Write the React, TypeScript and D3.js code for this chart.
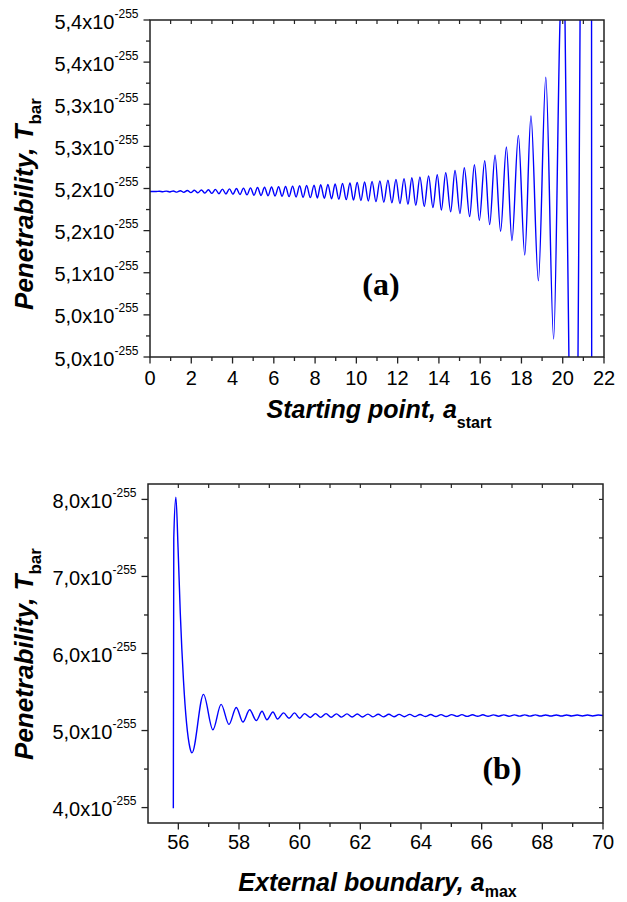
import React from "react";
import * as d3 from "d3";

// ---------- Panel (a) data ----------
const aXTicks = [0, 2, 4, 6, 8, 10, 12, 14, 16, 18, 20, 22];
const aXMinor = [1, 3, 5, 7, 9, 11, 13, 15, 17, 19, 21];
const aXTop = [1, 2, 3, 4, 5, 6, 7, 8, 9, 10, 11, 12, 13, 14, 15, 16, 17, 18, 19, 20, 21];
const aYTicks = [5.0, 5.05, 5.1, 5.15, 5.2, 5.25, 5.3, 5.35, 5.4];
const aYLabels = ["5,0", "5,0", "5,1", "5,2", "5,2", "5,3", "5,3", "5,4", "5,4"];
const aYMinor = [5.025, 5.075, 5.125, 5.175, 5.225, 5.275, 5.325, 5.375];
const aYRight = [5.025, 5.05, 5.075, 5.1, 5.125, 5.15, 5.175, 5.2, 5.225, 5.25, 5.275, 5.3, 5.325, 5.35, 5.375];

// extrema of T_bar vs a_start
const curveA: [number, number][] = [
  [0, 5.1964], [0.3, 5.1964],
  [0.45, 5.1967], [0.62, 5.1961], [0.79, 5.1969], [0.96, 5.1959],
  [1.13, 5.1971], [1.3, 5.1957], [1.47, 5.1974], [1.64, 5.1954],
  [1.81, 5.1977], [1.98, 5.1951], [2.15, 5.198], [2.32, 5.1948],
  [2.49, 5.1983], [2.66, 5.1945], [2.83, 5.1986], [3.0, 5.1942],
  [3.17, 5.199], [3.34, 5.1938], [3.51, 5.1993], [3.68, 5.1935],
  [3.85, 5.1996], [4.02, 5.1932], [4.19, 5.2], [4.36, 5.1928],
  [4.53, 5.2004], [4.7, 5.1924], [4.87, 5.2008], [5.04, 5.192],
  [5.21, 5.2011], [5.38, 5.1917], [5.55, 5.2014], [5.72, 5.1914],
  [5.89, 5.2017], [6.06, 5.1911], [6.23, 5.202], [6.4, 5.1908],
  [6.57, 5.2024], [6.74, 5.1904], [6.91, 5.2028], [7.08, 5.19],
  [7.25, 5.2032], [7.42, 5.1896], [7.59, 5.2036], [7.77, 5.1892],
  [7.95, 5.204], [8.11, 5.1888], [8.27, 5.2044], [8.45, 5.1884],
  [8.62, 5.2049], [8.8, 5.1879], [8.97, 5.2054], [9.15, 5.1874],
  [9.33, 5.206], [9.51, 5.1868], [9.69, 5.2066], [9.86, 5.1862],
  [10.04, 5.2072], [10.22, 5.1856], [10.4, 5.2078], [10.58, 5.185],
  [10.76, 5.2084], [10.95, 5.1844], [11.14, 5.2091], [11.33, 5.1837],
  [11.53, 5.2099], [11.72, 5.1829], [11.92, 5.2108], [12.11, 5.182],
  [12.31, 5.2117], [12.5, 5.1811], [12.69, 5.2127], [12.88, 5.18],
  [13.08, 5.2138], [13.29, 5.1788], [13.5, 5.215], [13.71, 5.1775],
  [13.92, 5.2164], [14.12, 5.1745], [14.33, 5.2187], [14.57, 5.1723],
  [14.78, 5.2214], [15.02, 5.1702], [15.23, 5.2246], [15.49, 5.1667],
  [15.72, 5.2282], [15.96, 5.1623], [16.22, 5.233], [16.46, 5.1571],
  [16.72, 5.2396], [16.99, 5.1492], [17.27, 5.2492], [17.54, 5.1381],
  [17.85, 5.2631], [18.16, 5.1211], [18.46, 5.2861], [18.82, 5.0905],
  [19.18, 5.3321], [19.56, 5.0214], [19.87, 5.4], [19.99, 5.47],
  [20.11, 5.4], [20.3, 5.0], [20.52, 4.9], [20.74, 5.0],
  [20.84, 5.4], [21.1, 5.8], [21.39, 5.8], [21.41, 4.6], [21.6, 4.5],
];

// ---------- Panel (b) data ----------
const bXTicks = [56, 58, 60, 62, 64, 66, 68, 70];
const bXMinor = [57, 59, 61, 63, 65, 67, 69];
const bXTop = [56, 57, 58, 59, 60, 61, 62, 63, 64, 65, 66, 67, 68, 69];
const bYTicks = [4, 5, 6, 7, 8];
const bYLabels = ["4,0", "5,0", "6,0", "7,0", "8,0"];
const bYMinor = [4.5, 5.5, 6.5, 7.5];
const bYRight = [4, 4.5, 5, 5.5, 6, 6.5, 7, 7.5, 8];

// extrema of T_bar vs a_max
const curveB: [number, number][] = [
  [55.835, 3.99], [55.85, 7.5], [55.92, 8.03], [55.99, 7.38], [56.065, 6.52],
  [56.17, 5.65], [56.38, 4.78], [56.45, 4.71], [56.83, 5.47], [57.14, 5.01],
  [57.41, 5.34], [57.67, 5.08], [57.91, 5.3], [58.13, 5.11], [58.35, 5.27],
  [58.57, 5.13], [58.76, 5.25], [58.92, 5.14], [59.12, 5.24], [59.27, 5.15],
  [59.47, 5.23], [59.65, 5.16], [59.83, 5.23], [60.0, 5.16], [60.16, 5.22],
  [60.35, 5.17], [60.52, 5.22], [60.69, 5.171], [60.87, 5.219], [61.04, 5.172],
  [61.21, 5.217], [61.38, 5.174], [61.56, 5.216], [61.73, 5.175], [61.9, 5.214],
  [62.07, 5.176], [62.25, 5.213], [62.42, 5.177], [62.59, 5.212], [62.76, 5.178],
  [62.94, 5.211], [63.11, 5.179], [63.28, 5.21], [63.45, 5.18], [63.63, 5.21],
  [63.8, 5.181], [63.97, 5.209], [64.14, 5.182], [64.32, 5.208], [64.49, 5.182],
  [64.66, 5.207], [64.83, 5.183], [65.01, 5.207], [65.18, 5.184], [65.35, 5.206],
  [65.52, 5.184], [65.7, 5.205], [65.87, 5.185], [66.04, 5.205], [66.21, 5.185],
  [66.39, 5.204], [66.56, 5.186], [66.73, 5.204], [66.9, 5.186], [67.08, 5.203],
  [67.25, 5.187], [67.42, 5.203], [67.59, 5.187], [67.77, 5.203], [67.94, 5.188],
  [68.11, 5.202], [68.28, 5.188], [68.46, 5.202], [68.63, 5.188], [68.8, 5.202],
  [68.97, 5.189], [69.15, 5.201], [69.32, 5.189], [69.49, 5.201], [69.66, 5.189],
  [69.84, 5.201], [70.0, 5.195],
];

const SANS = "'Liberation Sans', Arial, sans-serif";
const SERIF = "'Liberation Serif', 'Times New Roman', serif";

type PanelProps = {
  id: string;
  box: { l: number; r: number; t: number; b: number };
  xDomain: [number, number];
  yDomain: [number, number];
  xTicks: number[];
  xMinor: number[];
  xTop: number[];
  yTicks: number[];
  yLabels: string[];
  yMinor: number[];
  yRight: number[];
  data: [number, number][];
  xTitle: string;
  xSub: string;
  xSubDy: number;
  xLabelY: number;
  xTitleY: number;
  yTitleCenter: number;
  tag: string;
  tagX: number;
  tagY: number;
};

function Panel(p: PanelProps) {
  const { box } = p;
  const x = d3.scaleLinear().domain(p.xDomain).range([box.l, box.r]);
  const y = d3.scaleLinear().domain(p.yDomain).range([box.b, box.t]);
  const line = d3
    .line<[number, number]>()
    .x((d) => x(d[0]))
    .y((d) => y(d[1]))
    .curve(d3.curveMonotoneX);
  const axisColor = "#222";
  const cx = (box.l + box.r) / 2;
  return (
    <g>
      <defs>
        <clipPath id={"clip" + p.id}>
          <rect x={box.l} y={box.t} width={box.r - box.l} height={box.b - box.t} />
        </clipPath>
      </defs>
      <path
        d={line(p.data) || ""}
        fill="none"
        stroke="#0000ff"
        strokeWidth={1.4}
        clipPath={`url(#clip${p.id})`}
      />
      {/* frame */}
      <rect
        x={box.l}
        y={box.t}
        width={box.r - box.l}
        height={box.b - box.t}
        fill="none"
        stroke={axisColor}
        strokeWidth={1.5}
      />
      {/* bottom ticks */}
      {p.xTicks.map((v) => (
        <line key={"xt" + v} x1={x(v)} x2={x(v)} y1={box.b} y2={box.b + 6.5} stroke={axisColor} strokeWidth={1.3} />
      ))}
      {p.xMinor.map((v) => (
        <line key={"xm" + v} x1={x(v)} x2={x(v)} y1={box.b} y2={box.b + 4} stroke={axisColor} strokeWidth={1.3} />
      ))}
      {/* top ticks inward */}
      {p.xTop.map((v) => (
        <line key={"xtop" + v} x1={x(v)} x2={x(v)} y1={box.t} y2={box.t + 4} stroke={axisColor} strokeWidth={1.2} />
      ))}
      {/* left ticks */}
      {p.yTicks.map((v) => (
        <line key={"yt" + v} x1={box.l - 6.5} x2={box.l} y1={y(v)} y2={y(v)} stroke={axisColor} strokeWidth={1.3} />
      ))}
      {p.yMinor.map((v) => (
        <line key={"ym" + v} x1={box.l - 4} x2={box.l} y1={y(v)} y2={y(v)} stroke={axisColor} strokeWidth={1.3} />
      ))}
      {/* right ticks inward */}
      {p.yRight.map((v) => (
        <line key={"yr" + v} x1={box.r - 4} x2={box.r} y1={y(v)} y2={y(v)} stroke={axisColor} strokeWidth={1.2} />
      ))}
      {/* x tick labels */}
      {p.xTicks.map((v) => (
        <text key={"xl" + v} x={x(v)} y={p.xLabelY} textAnchor="middle" fontFamily={SANS} fontSize={20} fill="#000">
          {String(v)}
        </text>
      ))}
      {/* y tick labels */}
      {p.yTicks.map((v, i) => (
        <text key={"yl" + v} x={box.l - 11.5} y={y(v) + 8.5} textAnchor="end" fontFamily={SANS} fontSize={20} fill="#000">
          {p.yLabels[i] + "x10"}
          <tspan fontSize={12} dy={-11}>
            -255
          </tspan>
        </text>
      ))}
      {/* x title */}
      <text x={cx + 2} y={p.xTitleY} textAnchor="middle" fontFamily={SANS} fontSize={25} fontWeight="bold" fontStyle="italic" fill="#000">
        {p.xTitle}
        <tspan fontSize={16} fontStyle="normal" dy={p.xSubDy}>
          {p.xSub}
        </tspan>
      </text>
      {/* y title */}
      <text
        transform={`translate(33,${p.yTitleCenter}) rotate(-90)`}
        textAnchor="middle"
        fontFamily={SANS}
        fontSize={26}
        fontWeight="bold"
        fontStyle="italic"
        fill="#000"
      >
        {"Penetrability, "}
        <tspan>T</tspan>
        <tspan fontSize={17} fontStyle="normal" dy={8}>
          bar
        </tspan>
      </text>
      {/* panel tag */}
      <text x={p.tagX} y={p.tagY} textAnchor="middle" fontFamily={SERIF} fontSize={32} fontWeight="bold" fill="#000">
        {p.tag}
      </text>
    </g>
  );
}

export default function App() {
  return (
    <svg
      width={627}
      height={902}
      viewBox="0 0 627 902"
      style={{ position: "absolute", left: 0, top: 0, background: "#fff" }}
    >
      <rect x={0} y={0} width={627} height={902} fill="#fff" />
      <Panel
        id="a"
        box={{ l: 150, r: 604, t: 20, b: 357 }}
        xDomain={[0, 22]}
        yDomain={[5.0, 5.4]}
        xTicks={aXTicks}
        xMinor={aXMinor}
        xTop={aXTop}
        yTicks={aYTicks}
        yLabels={aYLabels}
        yMinor={aYMinor}
        yRight={aYRight}
        data={curveA}
        xTitle="Starting point, a"
        xSub="start"
        xSubDy={10}
        xLabelY={385}
        xTitleY={418}
        yTitleCenter={204}
        tag="(a)"
        tagX={381}
        tagY={295}
      />
      <Panel
        id="b"
        box={{ l: 148, r: 603, t: 484, b: 823 }}
        xDomain={[55, 70]}
        yDomain={[3.8, 8.2]}
        xTicks={bXTicks}
        xMinor={bXMinor}
        xTop={bXTop}
        yTicks={bYTicks}
        yLabels={bYLabels}
        yMinor={bYMinor}
        yRight={bYRight}
        data={curveB}
        xTitle="External boundary, a"
        xSub="max"
        xSubDy={6}
        xLabelY={849}
        xTitleY={891}
        yTitleCenter={654}
        tag="(b)"
        tagX={502}
        tagY={779}
      />
    </svg>
  );
}
